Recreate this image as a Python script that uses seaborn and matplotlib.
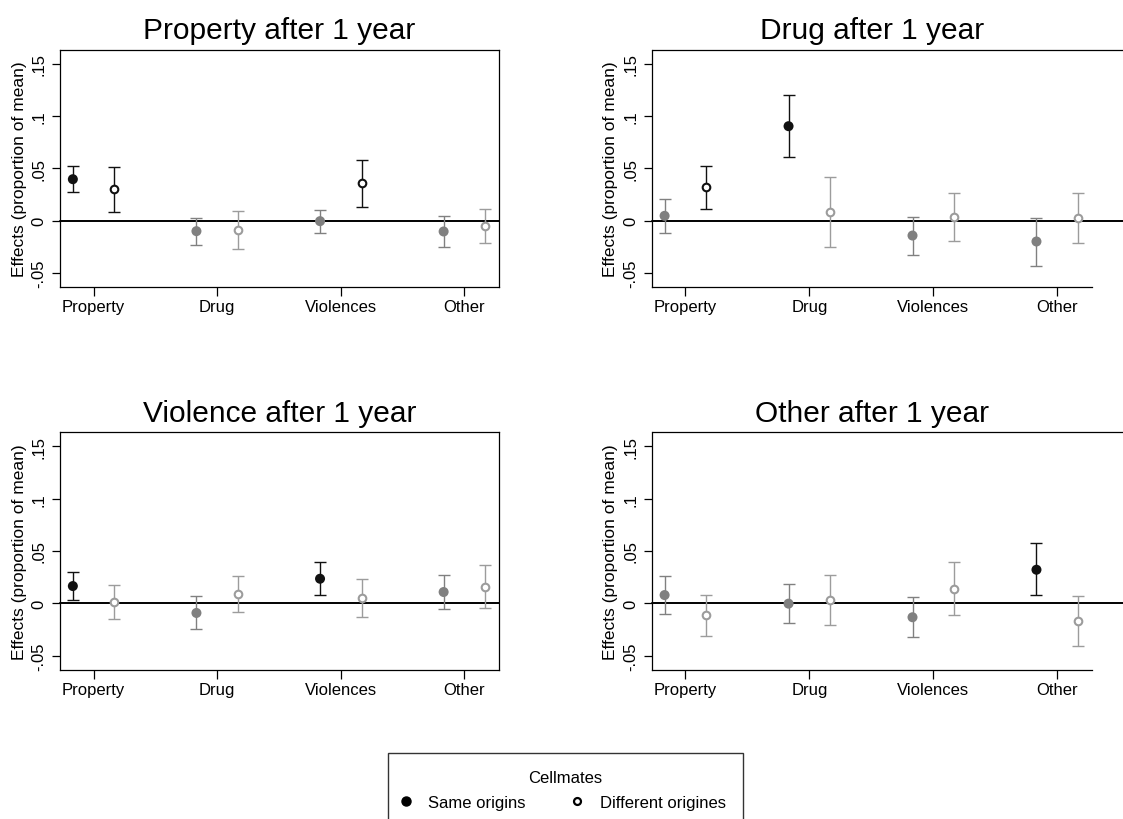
import numpy as np
import pandas as pd
import matplotlib
matplotlib.use("Agg")
import matplotlib.pyplot as plt
from matplotlib.lines import Line2D
import seaborn as sns

# ---------------- data ----------------
categories = ["Property", "Drug", "Violences", "Other"]
panel_titles = ["Property after 1 year", "Drug after 1 year",
                "Violence after 1 year", "Other after 1 year"]
ytick_values = [-0.05, 0.0, 0.05, 0.10, 0.15]
ytick_labels = ["-.05", "0", ".05", ".1", ".15"]
ylabel_text = "Effects (proportion of mean)"
legend_title = "Cellmates"
legend_labels = ["Same origins", "Different origines"]

# Panel 1: Property after 1 year
property_same_est = [0.0396, -0.0102, -0.0006, -0.0105]
property_same_lo = [0.0275, -0.0230, -0.0115, -0.0249]
property_same_hi = [0.0527, 0.0026, 0.0105, 0.0042]
property_diff_est = [0.0300, -0.0089, 0.0358, -0.0051]
property_diff_lo = [0.0086, -0.0271, 0.0131, -0.0217]
property_diff_hi = [0.0517, 0.0096, 0.0584, 0.0112]

# Panel 2: Drug after 1 year
drug_same_est = [0.0045, 0.0904, -0.0144, -0.0201]
drug_same_lo = [-0.0115, 0.0607, -0.0326, -0.0431]
drug_same_hi = [0.0204, 0.1204, 0.0038, 0.0026]
drug_diff_est = [0.0319, 0.0083, 0.0029, 0.0022]
drug_diff_lo = [0.0115, -0.0256, -0.0201, -0.0214]
drug_diff_hi = [0.0527, 0.0418, 0.0265, 0.0265]

# Panel 3: Violence after 1 year
violence_same_est = [0.0165, -0.0092, 0.0235, 0.0108]
violence_same_lo = [0.0035, -0.0248, 0.0079, -0.0057]
violence_same_hi = [0.0302, 0.0067, 0.0391, 0.0270]
violence_diff_est = [0.0013, 0.0092, 0.0051, 0.0156]
violence_diff_lo = [-0.0149, -0.0079, -0.0133, -0.0048]
violence_diff_hi = [0.0175, 0.0261, 0.0235, 0.0362]

# Panel 4: Other after 1 year
other_same_est = [0.0079, -0.0003, -0.0133, 0.0321]
other_same_lo = [-0.0099, -0.0184, -0.0324, 0.0076]
other_same_hi = [0.0257, 0.0184, 0.0060, 0.0572]
other_diff_est = [-0.0114, 0.0032, 0.0140, -0.0168]
other_diff_lo = [-0.0308, -0.0210, -0.0111, -0.0410]
other_diff_hi = [0.0083, 0.0270, 0.0394, 0.0073]

panels = [
    (property_same_est, property_same_lo, property_same_hi,
     property_diff_est, property_diff_lo, property_diff_hi),
    (drug_same_est, drug_same_lo, drug_same_hi,
     drug_diff_est, drug_diff_lo, drug_diff_hi),
    (violence_same_est, violence_same_lo, violence_same_hi,
     violence_diff_est, violence_diff_lo, violence_diff_hi),
    (other_same_est, other_same_lo, other_same_hi,
     other_diff_est, other_diff_lo, other_diff_hi),
]

# ---------------- style ----------------
sns.set_theme(style="ticks")
plt.rcParams["font.family"] = ["Liberation Sans", "DejaVu Sans"]
plt.rcParams["text.color"] = "black"
plt.rcParams["axes.labelcolor"] = "black"
plt.rcParams["xtick.color"] = "black"
plt.rcParams["ytick.color"] = "black"
plt.rcParams["axes.titlecolor"] = "black"

W, H = 1123, 820
fig = plt.figure(figsize=(W / 100, H / 100), dpi=100)


def add_ax(l, r, t, b):
    return fig.add_axes([l / W, 1 - b / H, (r - l) / W, (b - t) / H])


boxes = [(60, 499, 51, 288), (651.7, 1092, 51, 288),
         (60, 499, 433.3, 671), (651.7, 1092, 433.3, 671)]

OFF = 0.168
SIG_COL = "#111111"
NS_FILLED = "#808080"
NS_HOLLOW = "#9c9c9c"

for i, (box, title, vals) in enumerate(zip(boxes, panel_titles, panels)):
    ax = add_ax(*box)
    s_est, s_lo, s_hi, d_est, d_lo, d_hi = vals
    idx = np.arange(len(categories))

    rows = []
    for k in range(len(categories)):
        rows.append(dict(x=idx[k] - OFF, est=s_est[k], lo=s_lo[k], hi=s_hi[k], grp="same"))
        rows.append(dict(x=idx[k] + OFF, est=d_est[k], lo=d_lo[k], hi=d_hi[k], grp="diff"))
    df = pd.DataFrame(rows)
    df["sig"] = (df["lo"] > 0) | (df["hi"] < 0)

    ax.axhline(0, color="black", lw=1.4, zorder=1,
               xmax=(1.07 if i % 2 == 1 else 1.0), clip_on=False)

    for _, r in df.iterrows():
        if r["sig"]:
            col = SIG_COL
        else:
            col = NS_FILLED if r["grp"] == "same" else NS_HOLLOW
        ax.errorbar(r["x"], r["est"], yerr=[[r["est"] - r["lo"]], [r["hi"] - r["est"]]],
                    fmt="none", ecolor=col, elinewidth=1.0, capsize=4.3, capthick=1.0,
                    zorder=2)

    same = df[df["grp"] == "same"]
    same_cols = {True: SIG_COL, False: NS_FILLED}
    sns.scatterplot(data=same, x="x", y="est", hue="sig", palette=same_cols,
                    s=52, linewidth=0, ax=ax, legend=False, zorder=3)
    diff = df[df["grp"] == "diff"]
    for _, r in diff.iterrows():
        col = SIG_COL if r["sig"] else NS_HOLLOW
        ax.scatter([r["x"]], [r["est"]], s=30, facecolors="white", edgecolors=col,
                   linewidths=1.5, zorder=3)

    ax.set_xlim(-0.272, 3.28)
    ax.set_ylim(-0.0637, 0.1634)
    ax.set_xticks(idx)
    ax.set_xticklabels(categories, fontsize=12)
    ax.set_yticks(ytick_values)
    ax.set_yticklabels(ytick_labels, fontsize=12, rotation=90, va="center")
    ax.set_xlabel("")
    ax.set_ylabel(ylabel_text, fontsize=12.5)
    ax.yaxis.set_label_coords(-0.076, 0.5)
    ax.tick_params(axis="x", length=6.5, width=0.9, pad=2.5, color="black")
    ax.tick_params(axis="y", length=5.8, width=0.9, pad=4, color="black")
    ax.set_title(title, fontsize=21.5, pad=8.4, color="black")
    for sp in ax.spines.values():
        sp.set_color("black")
        sp.set_linewidth(0.9)
    if i % 2 == 1:
        ax.spines["right"].set_visible(False)
        ax.spines["top"].set_visible(False)
        ax.axhline(ax.get_ylim()[1], xmin=0, xmax=1.08, color="black", lw=0.9,
                   clip_on=False)

# ---------------- legend ----------------
handles = [
    Line2D([], [], ls="none", marker="o", markersize=6.5, markerfacecolor="black",
           markeredgecolor="black"),
    Line2D([], [], ls="none", marker="o", markersize=5, markerfacecolor="white",
           markeredgecolor="black", markeredgewidth=1.6),
]
leg = fig.legend(handles, legend_labels, title=legend_title, ncol=2,
                 loc="upper center",
                 bbox_to_anchor=(565 / W, 1 - 754 / H),
                 fontsize=12, title_fontsize=12, frameon=True, fancybox=False,
                 edgecolor="black", borderpad=1.0, handletextpad=1.26,
                 handlelength=0.2, columnspacing=2.97, labelspacing=0.62,
                 borderaxespad=0.0)
leg.get_frame().set_linewidth(1.0)

fig.savefig("out.png", dpi=100, facecolor="white")
